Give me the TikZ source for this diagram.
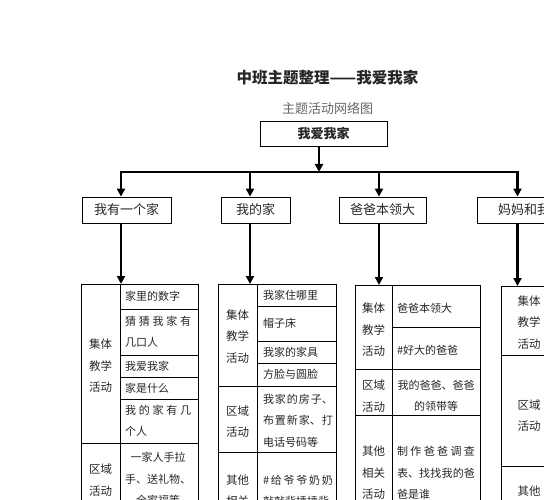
\documentclass[tikz,border=0pt]{standalone}
\usepackage{fontspec}
\setmainfont{Noto Sans CJK SC}
\usetikzlibrary{arrows.meta}
\XeTeXlinebreaklocale "zh"
\XeTeXlinebreakskip=0pt plus 5pt

\begin{document}
\begin{tikzpicture}[x=1pt,y=-1pt,
        every node/.style={text=black!85},
        box/.style={draw,line width=0.8pt,minimum height=26pt,inner sep=0pt,font=\fontsize{13}{15}\selectfont},
        arr/.style={line width=2.4pt,-{Triangle[length=8pt,width=8pt]}},
        grid/.style={line width=0.7pt},
        cellL/.style={align=center,inner sep=0pt,font=\fontsize{11.5}{21.5}\selectfont},
        cellR/.style={align=justify,inner sep=0pt,font=\fontsize{11}{21.5}\selectfont}]
        \useasboundingbox (0,0) rectangle (544,500);
        \clip (0,0) rectangle (544,500);

        \node[font=\fontsize{15.5}{18}\selectfont\bfseries] (title) at (327.5,78) {中班主题整理——我爱我家};
        \node[text=black!60,font=\fontsize{13}{15}\selectfont] (sub) at (327.5,108) {主题活动网络图};
        \node[box,minimum width=127pt,minimum height=25pt,font=\fontsize{13}{15}\selectfont\bfseries] (root) at (323.5,133.5) {我爱我家};

        \node[box,minimum width=89pt] (b1) at (126.5,210) {我有一个家};
        \node[box,minimum width=69pt] (b2) at (255.5,210) {我的家};
        \node[box,minimum width=87pt] (b3) at (382.5,210) {爸爸本领大};
        \node[box,minimum width=94pt] (b4) at (524,210) {妈妈和我};

        \coordinate (j0) at (319,172);
        \coordinate (j1) at (121,172);
        \coordinate (j2) at (250,172);
        \coordinate (j3) at (379,172);
        \coordinate (j4) at (517.5,172);
        \coordinate (t1) at (121,284);
        \coordinate (t2) at (250,284);
        \coordinate (t3) at (379,285);
        \coordinate (t4) at (517.5,286);

        \draw[arr] (root.south -| j0) -- (j0);
        \draw[line width=2.4pt,line cap=rect] (j1) -- (j4);
        \foreach \i in {1,...,4} \draw[arr] (j\i) -- (j\i |- b\i.north);
        \foreach \i in {1,...,4} \draw[arr] (j\i |- b\i.south) -- (t\i);

        % 我有一个家
        \draw[grid] (81,284) rectangle (198,520);
        \draw[grid] (120,284) -- (120,520);
        \foreach \y in {309,355,377,399} \draw[grid] (120,\y) -- (198,\y);
        \draw[grid] (81,443) -- (198,443);
        \node[cellL] (c1a) at (100.5,366) {集体\\教学\\活动};
        \node[cellL] (c1b) at (100.5,480) {区域\\活动};
        \node[cellR,text width=66pt,align=left] (c1c) at (158,296.5) {家里的数字};
        \node[cellR,text width=66pt] (c1d) at (158,332) {猜猜我家有\linebreak 几口人};
        \node[cellR,text width=66pt,align=left] (c1e) at (158,366) {我爱我家};
        \node[cellR,text width=66pt,align=left] (c1f) at (158,388) {家是什么};
        \node[cellR,text width=66pt] (c1g) at (158,421) {我的家有几\linebreak 个人};
        \node[cellL,font=\fontsize{11}{21.5}\selectfont] (c1h) at (158,479) {一家人手拉\\手、送礼物、\\全家福等};

        % 我的家
        \draw[grid] (218,284) rectangle (336,520);
        \draw[grid] (257,284) -- (257,520);
        \foreach \y in {306,341,363} \draw[grid] (257,\y) -- (336,\y);
        \foreach \y in {386,452} \draw[grid] (218,\y) -- (336,\y);
        \node[cellL] (c2a) at (237.5,336.5) {集体\\教学\\活动};
        \node[cellL] (c2b) at (237.5,421.5) {区域\\活动};
        \node[cellL] (c2c) at (237.5,501.5) {其他\\相关\\活动};
        \node[cellR,text width=70pt,align=left] (c2d) at (298,295) {我家住哪里};
        \node[cellR,text width=70pt,align=left] (c2e) at (298,323.5) {帽子床};
        \node[cellR,text width=70pt,align=left] (c2f) at (298,352) {我家的家具};
        \node[cellR,text width=70pt,align=left] (c2g) at (298,374.5) {方脸与圆脸};
        \node[cellR,text width=70pt] (c2h) at (298,420.5) {我家的房子、\linebreak 布置新家、打\linebreak 电话号码等};
        \node[cellR,text width=70pt] (c2i) at (298,491) {\#给爷爷奶奶\linebreak 敲敲背捶捶背};

        % 爸爸本领大
        \draw[grid] (355,285) rectangle (480,520);
        \draw[grid] (392,285) -- (392,520);
        \draw[grid] (392,327) -- (480,327);
        \foreach \y in {369,415} \draw[grid] (355,\y) -- (480,\y);
        \node[cellL] (c3a) at (373.5,330) {集体\\教学\\活动};
        \node[cellL] (c3b) at (373.5,396) {区域\\活动};
        \node[cellL] (c3c) at (373.5,473) {其他\\相关\\活动};
        \node[cellR,text width=78pt,align=left] (c3d) at (436,308) {爸爸本领大};
        \node[cellR,text width=78pt,align=left] (c3e) at (436,350) {\#好大的爸爸};
        \node[cellL,font=\fontsize{11}{21.5}\selectfont] (c3f) at (436,396) {我的爸爸、爸爸\\的领带等};
        \node[cellR,text width=78pt] (c3g) at (436,473) {制作爸爸调查\linebreak 表、找找我的爸\linebreak 爸是谁};

        % 妈妈和我
        \draw[grid] (501,286) rectangle (600,520);
        \foreach \y in {355,466} \draw[grid] (501,\y) -- (600,\y);
        \node[cellL] (c4a) at (529,322.5) {集体\\教学\\活动};
        \node[cellL] (c4b) at (529,415.5) {区域\\活动};
        \node[cellL] (c4c) at (529,512.5) {其他\\相关\\活动};
\end{tikzpicture}
\end{document}
